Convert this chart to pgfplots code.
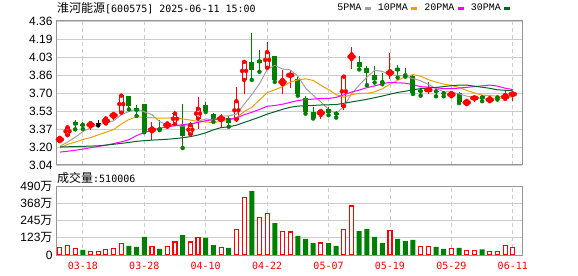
\documentclass[border=0pt]{standalone}
\usepackage{fontspec}
\setmainfont{Liberation Sans}
\newfontfamily\cjk{Noto Sans CJK SC}
\newfontfamily\dmono{DejaVu Sans Mono}
\newfontfamily\lmono{Liberation Mono}
\usepackage{pgfplots}
\pgfplotsset{compat=1.18}
\usepackage{pgfplotstable}

\definecolor{kred}{RGB}{255,0,0}
\definecolor{kgreen}{RGB}{0,128,0}
\definecolor{mafive}{RGB}{160,160,160}
\definecolor{maten}{RGB}{240,160,0}
\definecolor{matwenty}{RGB}{255,0,255}
\definecolor{mathirty}{RGB}{0,100,40}
\definecolor{gridc}{RGB}{204,204,204}
\definecolor{framec}{RGB}{150,150,150}

% red (close > open) candles
\pgfplotstableread{
i o h l c
0 3.259 3.301 3.250 3.289
1 3.313 3.403 3.301 3.385
4 3.394 3.433 3.364 3.424
6 3.421 3.490 3.409 3.466
7 3.481 3.529 3.451 3.508
8 3.520 3.694 3.502 3.676
12 3.349 3.430 3.265 3.376
14 3.391 3.445 3.370 3.421
15 3.415 3.532 3.394 3.511
17 3.322 3.436 3.316 3.406
18 3.466 3.661 3.367 3.556
21 3.451 3.505 3.391 3.478
23 3.457 3.757 3.436 3.625
24 3.820 3.985 3.690 3.985
27 3.931 4.170 3.910 4.075
29 3.780 3.910 3.690 3.820
30 3.856 3.910 3.750 3.870
34 3.499 3.556 3.466 3.535
37 3.580 3.850 3.540 3.850
38 4.012 4.126 3.916 4.054
43 3.871 4.066 3.832 3.901
48 3.724 3.800 3.690 3.730
51 3.670 3.700 3.655 3.700
53 3.598 3.640 3.577 3.628
54 3.646 3.661 3.622 3.661
56 3.625 3.661 3.616 3.652
58 3.646 3.721 3.631 3.682
59 3.682 3.706 3.631 3.697
}\upT

% green (close < open) candles
\pgfplotstableread{
i o h l c
2 3.430 3.451 3.367 3.409
3 3.412 3.430 3.370 3.403
9 3.676 3.676 3.550 3.580
10 3.559 3.586 3.490 3.532
11 3.595 3.595 3.340 3.343
13 3.376 3.451 3.360 3.361
16 3.406 3.601 3.196 3.310
19 3.589 3.622 3.526 3.532
20 3.505 3.517 3.436 3.463
22 3.475 3.490 3.391 3.427
25 3.985 4.252 3.820 3.910
26 4.006 4.090 3.895 3.973
28 4.036 4.036 3.802 3.817
31 3.832 3.850 3.676 3.691
32 3.655 3.670 3.511 3.526
33 3.526 3.571 3.466 3.475
35 3.556 3.571 3.496 3.517
36 3.514 3.532 3.475 3.508
39 3.988 4.036 3.916 3.934
40 3.931 3.952 3.772 3.886
41 3.862 3.946 3.796 3.817
42 3.802 3.886 3.781 3.799
44 3.930 3.955 3.841 3.900
45 3.865 3.931 3.850 3.859
46 3.856 3.862 3.691 3.700
47 3.727 3.745 3.676 3.706
49 3.718 3.727 3.670 3.715
50 3.700 3.712 3.670 3.697
52 3.697 3.706 3.607 3.616
55 3.673 3.673 3.625 3.646
57 3.661 3.670 3.640 3.658
}\downT

% unchanged candle
\pgfplotstableread{
i o h l c
5 3.424 3.454 3.403 3.424
}\flatT

% moving averages
\pgfplotstableread{
i m5 m10 m20 m30
0 3.211 3.196 3.158 3.205
1 3.250 3.229 3.166 3.207
2 3.295 3.250 3.175 3.209
3 3.346 3.274 3.186 3.211
4 3.382 3.292 3.198 3.213
5 3.409 3.316 3.210 3.216
6 3.425 3.340 3.222 3.222
7 3.445 3.364 3.236 3.230
8 3.500 3.415 3.252 3.238
9 3.531 3.457 3.272 3.247
10 3.552 3.481 3.310 3.257
11 3.528 3.477 3.338 3.263
12 3.501 3.473 3.360 3.268
13 3.438 3.469 3.376 3.272
14 3.407 3.469 3.390 3.276
15 3.402 3.477 3.400 3.282
16 3.396 3.462 3.410 3.290
17 3.402 3.452 3.418 3.300
18 3.441 3.440 3.430 3.315
19 3.463 3.435 3.446 3.335
20 3.453 3.428 3.455 3.362
21 3.487 3.442 3.460 3.383
22 3.491 3.447 3.460 3.390
23 3.505 3.473 3.471 3.405
24 3.596 3.530 3.500 3.430
25 3.685 3.569 3.523 3.454
26 3.784 3.636 3.549 3.479
27 3.914 3.703 3.578 3.506
28 3.952 3.729 3.585 3.528
29 3.920 3.758 3.597 3.550
30 3.912 3.799 3.614 3.569
31 3.856 3.820 3.631 3.580
32 3.746 3.830 3.639 3.583
33 3.678 3.815 3.644 3.586
34 3.619 3.770 3.650 3.590
35 3.549 3.731 3.650 3.592
36 3.512 3.684 3.660 3.594
37 3.577 3.662 3.683 3.606
38 3.693 3.686 3.708 3.618
39 3.773 3.696 3.727 3.630
40 3.846 3.698 3.749 3.642
41 3.908 3.710 3.765 3.657
42 3.898 3.738 3.784 3.672
43 3.867 3.780 3.798 3.689
44 3.861 3.816 3.793 3.705
45 3.855 3.849 3.790 3.716
46 3.832 3.869 3.777 3.730
47 3.813 3.854 3.758 3.740
48 3.779 3.822 3.754 3.746
49 3.742 3.800 3.748 3.751
50 3.710 3.781 3.740 3.759
51 3.710 3.770 3.740 3.767
52 3.692 3.751 3.745 3.773
53 3.671 3.724 3.752 3.773
54 3.660 3.701 3.759 3.762
55 3.650 3.680 3.765 3.753
56 3.641 3.676 3.773 3.743
57 3.649 3.671 3.763 3.729
58 3.660 3.666 3.744 3.725
59 3.667 3.664 3.732 3.720
}\maT

% volume (10k shares), up days
\pgfplotstableread{
i v
0 54
1 66
2 47
4 26
5 28
6 40
7 47
8 83
12 62
14 62
15 92
17 92
18 125
21 54
23 182
24 410
26 267
27 296
29 168
30 163
34 85
37 182
38 348
43 175
47 62
48 62
51 47
53 33
54 33
56 26
57 28
58 69
59 51
}\volR

% volume, down days
\pgfplotstableread{
i v
3 36
9 64
10 57
11 128
13 43
16 142
19 121
20 71
22 50
25 454
28 227
31 135
32 114
33 85
35 85
36 64
39 170
40 185
41 128
42 85
44 114
45 99
46 107
49 57
50 43
52 50
55 40
}\volG

\pgfplotsset{
  kbase/.style={
    scale only axis, width=466bp,
    xmin=-0.5, xmax=60.2, enlargelimits=false,
    xtick={3,11,19,27,35,43,51,59},
    axis line style={framec, line width=1bp},
    major tick length=0pt,
    xmajorgrids, ymajorgrids,
    x grid style={gridc, dash pattern=on 4bp off 3bp, line width=0.8bp},
    y grid style={gridc, line width=0.8bp},
    yticklabel style={font=\fontsize{12bp}{14bp}\selectfont, text=black},
  },
}

\begin{document}
\begin{tikzpicture}
\path[use as bounding box] (0,0) rectangle (578bp,276bp);

\node[anchor=west, inner sep=0pt] at (57bp,268bp)
  {{\cjk\fontsize{12bp}{14bp}\selectfont 淮河能源}{\dmono\fontsize{10bp}{12bp}\selectfont[600575] 2025-06-11 15:00}};
\node[anchor=west, inner sep=0pt] at (57bp,98bp)
  {{\cjk\fontsize{12bp}{14bp}\selectfont 成交量}{\dmono\fontsize{10bp}{12bp}\selectfont:510006}};

% ---------- price panel ----------
\begin{axis}[kbase,
  at={(56bp,111bp)}, anchor=south west, height=144bp,
  ymin=3.04, ymax=4.36,
  ytick={3.04,3.205,3.37,3.535,3.70,3.865,4.03,4.195,4.36},
  yticklabels={3.04,3.20,3.37,3.53,3.70,3.86,4.03,4.19,4.36},
  xticklabels={},
  legend plot pos=right,
  legend columns=4,
  legend image code/.code={\draw[#1, line width=3bp] (0bp,0bp) -- (6bp,0bp);},
  legend style={at={(axis description cs:0.985,1.09)}, anchor=east,
    draw=none, fill=none,
    font=\lmono\fontsize{10bp}{12bp}\selectfont,
    /tikz/every even column/.append style={column sep=3.5bp}},
]
% green candles: wick then filled body
\addplot[color=kgreen, only marks, mark=none, forget plot,
  error bars/.cd, y dir=both, y explicit, error mark=none,
  error bar style={color=kgreen, line width=1bp}]
  table[x=i, y=l, y error plus expr=\thisrow{h}-\thisrow{l}, y error minus expr=0] {\downT};
\addplot[color=kgreen, only marks, mark=none, forget plot,
  error bars/.cd, y dir=both, y explicit, error mark=none,
  error bar style={color=kgreen, line width=5bp}]
  table[x=i, y expr=(\thisrow{o}+\thisrow{c})/2, y error expr={max(abs(\thisrow{o}-\thisrow{c})/2,0.0046)}] {\downT};
% red candles: wicks outside the hollow body, then body outline
\addplot[color=red, only marks, mark=none, forget plot,
  error bars/.cd, y dir=both, y explicit, error mark=none,
  error bar style={color=red, line width=1bp}]
  table[x=i, y=c, y error plus expr=\thisrow{h}-\thisrow{c}, y error minus expr=0] {\upT};
\addplot[color=red, only marks, mark=none, forget plot,
  error bars/.cd, y dir=both, y explicit, error mark=none,
  error bar style={color=red, line width=1bp}]
  table[x=i, y=o, y error plus expr=0, y error minus expr=\thisrow{o}-\thisrow{l}] {\upT};
\addplot[color=red, only marks, mark=none, forget plot,
  error bars/.cd, y dir=both, y explicit, error mark=none,
  error bar style={color=red, line width=1bp}]
  table[x expr=\thisrow{i}-0.26, y expr=(\thisrow{o}+\thisrow{c})/2, y error expr=(\thisrow{c}-\thisrow{o})/2+0.0046] {\upT};
\addplot[color=red, only marks, mark=none, forget plot,
  error bars/.cd, y dir=both, y explicit, error mark=none,
  error bar style={color=red, line width=1bp}]
  table[x expr=\thisrow{i}+0.26, y expr=(\thisrow{o}+\thisrow{c})/2, y error expr=(\thisrow{c}-\thisrow{o})/2+0.0046] {\upT};
\addplot[color=red, only marks, mark=-, mark size=2.5bp, line width=1bp, mark options={color=red}, forget plot] table[x=i, y=o] {\upT};
\addplot[color=red, only marks, mark=-, mark size=2.5bp, line width=1bp, mark options={color=red}, forget plot] table[x=i, y=c] {\upT};
% unchanged candle
\addplot[color=black, only marks, mark=none, forget plot,
  error bars/.cd, y dir=both, y explicit, error mark=none,
  error bar style={color=black, line width=1bp}]
  table[x=i, y=l, y error plus expr=\thisrow{h}-\thisrow{l}, y error minus expr=0] {\flatT};
\addplot[color=black, only marks, mark=-, mark size=2.5bp, line width=1bp, forget plot] table[x=i, y=c] {\flatT};
% moving averages
\addplot[mafive, line width=1bp, mark=none] table[x=i, y=m5] {\maT};
\addlegendentry{5PMA}
\addplot[maten, line width=1bp, mark=none] table[x=i, y=m10] {\maT};
\addlegendentry{10PMA}
\addplot[matwenty, line width=1bp, mark=none] table[x=i, y=m20] {\maT};
\addlegendentry{20PMA}
\addplot[mathirty, line width=1bp, mark=none] table[x=i, y=m30] {\maT};
\addlegendentry{30PMA}
\end{axis}

% ---------- volume panel ----------
\begin{axis}[kbase,
  at={(56bp,21bp)}, anchor=south west, height=69bp,
  ymin=0, ymax=490,
  ytick={0,122.5,245,367.5,490},
  yticklabels={0,123{\cjk 万},245{\cjk 万},368{\cjk 万},490{\cjk 万}},
  xticklabels={03-18,03-28,04-10,04-22,05-07,05-19,05-29,06-11},
  xticklabel style={font=\dmono\fontsize{10bp}{12bp}\selectfont, text=kred, yshift=-3.4bp},
]
\addplot[ybar, bar width=4bp, bar shift=0pt, color=red, draw=red, fill=white, line width=1.1bp] table[x=i, y=v] {\volR};
\addplot[ybar, bar width=5bp, bar shift=0pt, draw=none, fill=kgreen] table[x=i, y=v] {\volG};
\end{axis}
\end{tikzpicture}
\end{document}
